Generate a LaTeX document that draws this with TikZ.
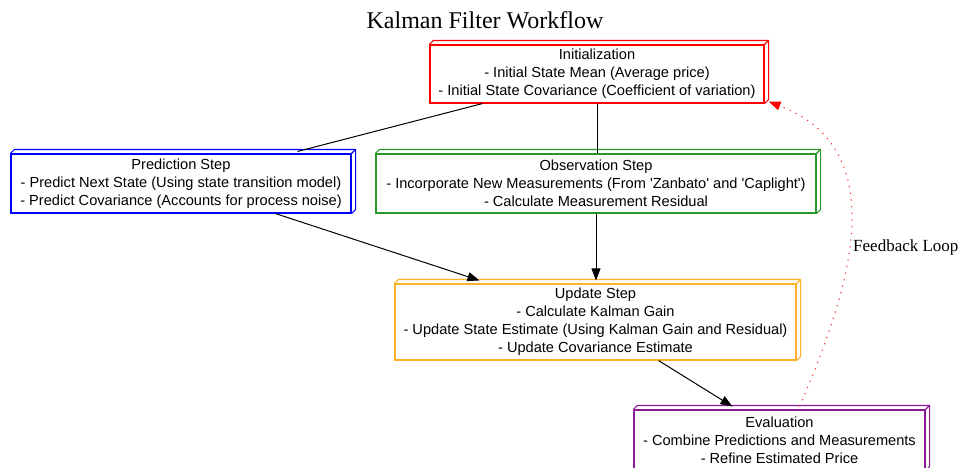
\documentclass[tikz,border=0pt]{standalone}
\usepackage{fontspec}
\setmainfont{Liberation Serif}
\newfontfamily\boxfont{Liberation Sans}
\usetikzlibrary{arrows.meta}
\definecolor{kred}{RGB}{255,0,0}
\definecolor{kblue}{RGB}{0,0,255}
\definecolor{kgreen}{RGB}{40,150,40}
\definecolor{korange}{RGB}{255,175,40}
\definecolor{kpurple}{RGB}{139,26,150}
\newcommand\boxthreed[2]{%
  \draw[#2,boxline] (#1.north west) -- ++(4pt,4pt) -- ([shift={(4pt,4pt)}]#1.north east) -- ([shift={(4pt,4pt)}]#1.south east) -- (#1.south east);
  \draw[#2,boxline] (#1.north east) -- ++(4pt,4pt);}
\tikzset{
  boxline/.style={line width=1.1pt},
  stepbox/.style={boxline, rectangle, inner sep=0pt, align=center,
    font=\boxfont\fontsize{14.6pt}{18pt}\selectfont, text=black},
  flow/.style={line width=1pt, black, -{Triangle[length=12pt,width=9pt]}},
  plain/.style={line width=1pt, black},
  fb/.style={line width=1.1pt, red!80, dash pattern=on 1.2pt off 5.5pt,
    -{Triangle[length=12pt,width=9pt,color=red,fill=red]}},
}
\begin{document}
\begin{tikzpicture}[x=1pt,y=-1pt]
\useasboundingbox (0,0) rectangle (961,467);
\clip (0,0) rectangle (961,467);

\node[font=\fontsize{24pt}{28pt}\selectfont] (title) at (485,20) {Kalman Filter Workflow};

\node[stepbox, draw=kred, minimum width=334pt, minimum height=58pt] (init) at (597,74)
  {Initialization\\- Initial State Mean (Average price)\\- Initial State Covariance (Coefficient of variation)};
\node[stepbox, draw=kblue, minimum width=340pt, minimum height=59pt] (pred) at (181,183.5)
  {Prediction Step\\- Predict Next State (Using state transition model)\\- Predict Covariance (Accounts for process noise)};
\node[stepbox, draw=kgreen, minimum width=440pt, minimum height=59pt] (obs) at (596,183.5)
  {Observation Step\\- Incorporate New Measurements (From 'Zanbato' and 'Caplight')\\- Calculate Measurement Residual};
\node[stepbox, draw=korange, minimum width=401pt, minimum height=76pt] (upd) at (595.5,322)
  {Update Step\\- Calculate Kalman Gain\\- Update State Estimate (Using Kalman Gain and Residual)\\- Update Covariance Estimate};
\node[stepbox, draw=kpurple, minimum width=291pt, minimum height=60pt] (eval) at (779.5,440)
  {Evaluation\\- Combine Predictions and Measurements\\- Refine Estimated Price};

\boxthreed{init}{kred}
\boxthreed{pred}{kblue}
\boxthreed{obs}{kgreen}
\boxthreed{upd}{korange}
\boxthreed{eval}{kpurple}

\draw[plain] ([xshift=53pt]init.south west) -- ([xshift=287pt,yshift=2pt]pred.north west);
\draw[plain] (init.south) -- (init.south |- obs.north);
\draw[flow] ([xshift=265pt]pred.south west) -- ([xshift=85pt,yshift=3pt]upd.north west);
\draw[flow] (obs.south) -- ([yshift=3pt]obs.south |- upd.north);
\draw[flow] ([xshift=-138pt]upd.south east) -- ([xshift=99pt,yshift=3pt]eval.north west);
\draw[fb] ([xshift=166pt,yshift=3pt]eval.north west) .. controls (850,290) and (895,150) .. ([xshift=4pt,yshift=2pt]init.south east);
\node[anchor=west, font=\fontsize{17pt}{20pt}\selectfont, inner sep=0pt] (fbl) at (853,247) {Feedback Loop};
\end{tikzpicture}
\end{document}
